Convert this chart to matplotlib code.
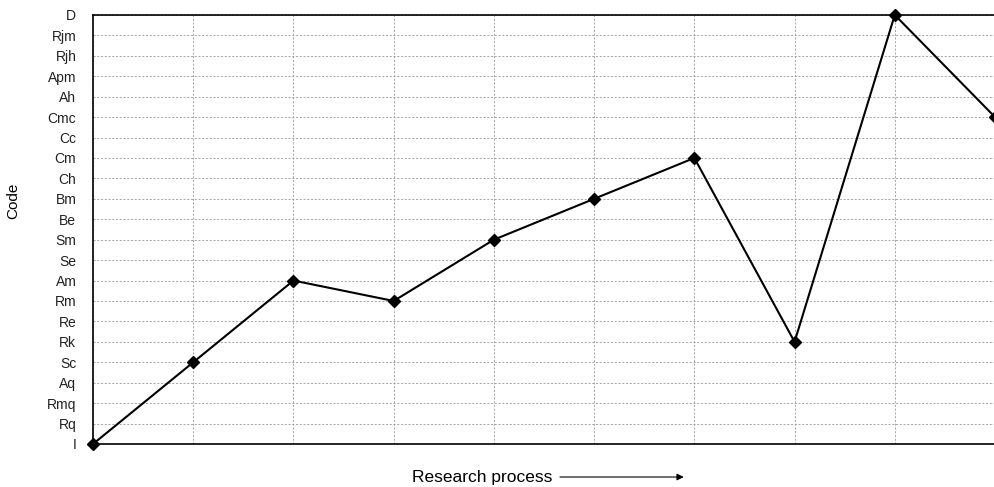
import matplotlib
matplotlib.use("Agg")
import matplotlib.pyplot as plt

# codes from bottom to top
codes = ["I", "Rq", "Rmq", "Aq", "Sc", "Rk", "Re", "Rm", "Am", "Se", "Sm",
         "Be", "Bm", "Ch", "Cm", "Cc", "Cmc", "Ah", "Apm", "Rjh", "Rjm", "D"]
# visited code at each step of the research process
path = ["I", "Sc", "Am", "Rm", "Sm", "Bm", "Cm", "Rk", "D", "Cmc"]

plt.rcParams['font.family'] = ['Liberation Sans', 'DejaVu Sans']

fig = plt.figure(figsize=(9.95, 4.87), dpi=100)
ax = fig.add_axes([0.0935, 0.0883, 0.9065, 0.881])

steps = list(range(len(path)))
yy = [codes.index(c) for c in path]
ax.plot(steps, yy, color='black', lw=1.5, marker='D', ms=6.5,
        mfc='black', mec='black', clip_on=False, zorder=3)

ax.set_xlim(0, len(path) - 1)
ax.set_ylim(0, len(codes) - 1)
ax.set_yticks(range(len(codes)))
ax.set_yticklabels(codes, fontsize=10, color='#222222')
ax.set_xticks(steps)
ax.set_xticklabels([])
ax.tick_params(axis='both', length=0)
ax.tick_params(axis='y', pad=12)
ax.grid(True, color='#999999', ls=(0, (2.5, 2)), lw=0.6)
for s in ['left', 'bottom', 'top']:
    ax.spines[s].set_linewidth(1.2)
ax.spines['right'].set_visible(False)

fig.text(0.013, 0.588, "Code", rotation=90, fontsize=11, va='center', ha='center')
fig.text(0.414, 0.0205, "Research process", fontsize=12.5, va='center', ha='left')
ax.annotate("", xy=(0.690, 0.0205), xytext=(0.560, 0.0205), xycoords='figure fraction',
            arrowprops=dict(arrowstyle='-|>', color='black', lw=0.8,
                            mutation_scale=10))

fig.savefig("out.png", dpi=100)
